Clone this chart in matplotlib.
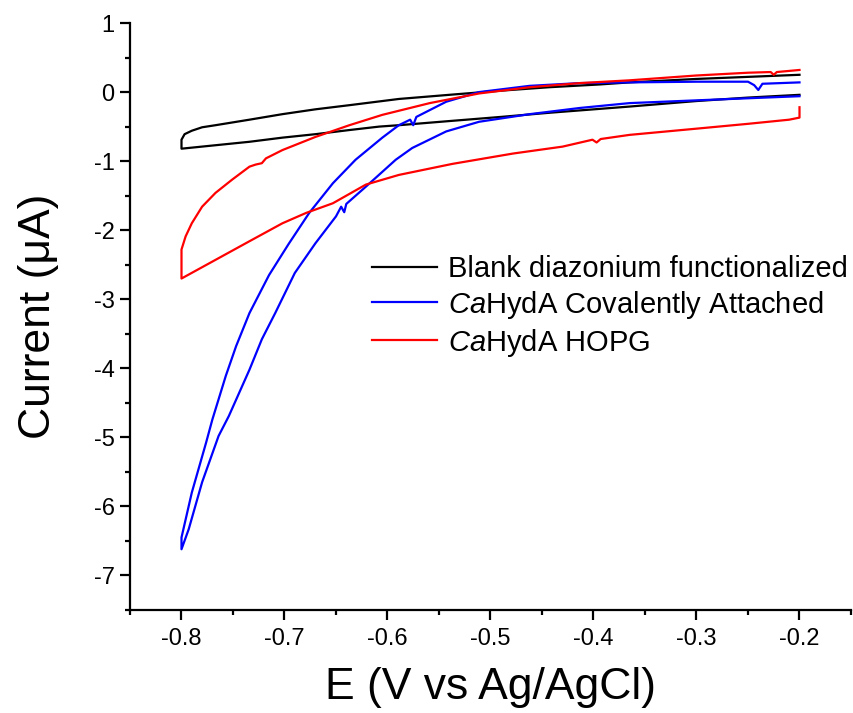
import matplotlib
matplotlib.use("Agg")
import matplotlib.pyplot as plt
from matplotlib.ticker import MultipleLocator

plt.rcParams['font.family'] = ['Liberation Sans', 'DejaVu Sans']
plt.rcParams['mathtext.fontset'] = 'custom'
plt.rcParams['mathtext.rm'] = 'Liberation Sans'
plt.rcParams['mathtext.it'] = 'Liberation Sans:italic'
plt.rcParams['axes.unicode_minus'] = False

# Blank diazonium functionalized electrode (cathodic sweep, then anodic sweep)
blank_E = [-0.2, -0.25, -0.3, -0.365, -0.443, -0.49, -0.54, -0.589, -0.608, -0.637, -0.67, -0.702, -0.734,
           -0.767, -0.8,
           -0.8, -0.797, -0.79, -0.78, -0.767, -0.734, -0.702, -0.67, -0.637, -0.589, -0.54, -0.49,
           -0.443, -0.394, -0.365, -0.3, -0.25, -0.2]
blank_I = [-0.04, -0.08, -0.13, -0.21, -0.30, -0.36, -0.42, -0.48, -0.50, -0.55, -0.61, -0.66, -0.72,
           -0.77, -0.82,
           -0.69, -0.61, -0.56, -0.51, -0.48, -0.40, -0.32, -0.25, -0.19, -0.10, -0.04, 0.02,
           0.07, 0.11, 0.14, 0.19, 0.22, 0.25]

# CaHydA covalently attached
cov_E = [-0.2, -0.25, -0.3, -0.365, -0.413, -0.462, -0.511, -0.543, -0.576, -0.592, -0.621, -0.640,
         -0.642, -0.645, -0.65, -0.67, -0.69, -0.709, -0.722, -0.734, -0.754, -0.764, -0.78, -0.793, -0.8,
         -0.8, -0.79, -0.776, -0.77, -0.757, -0.747, -0.734, -0.715, -0.696, -0.676, -0.653, -0.631,
         -0.605, -0.589, -0.578, -0.575, -0.572, -0.543, -0.511, -0.462, -0.413, -0.365, -0.3, -0.25,
         -0.244, -0.24, -0.236, -0.2]
cov_I = [-0.06, -0.09, -0.12, -0.16, -0.23, -0.32, -0.43, -0.57, -0.81, -0.98, -1.37, -1.62,
         -1.74, -1.66, -1.80, -2.19, -2.62, -3.20, -3.58, -4.02, -4.69, -4.98, -5.65, -6.33, -6.62,
         -6.45, -5.80, -5.07, -4.74, -4.11, -3.68, -3.20, -2.65, -2.20, -1.75, -1.32, -0.98,
         -0.66, -0.48, -0.40, -0.48, -0.36, -0.14, 0.00, 0.09, 0.13, 0.14, 0.15, 0.15,
         0.10, 0.03, 0.12, 0.14]

# CaHydA on HOPG
hopg_E = [-0.2, -0.2, -0.21, -0.25, -0.3, -0.365, -0.393, -0.397, -0.401, -0.43, -0.478, -0.537,
          -0.589, -0.621, -0.653, -0.679, -0.702, -0.734, -0.767, -0.8,
          -0.8, -0.796, -0.79, -0.78, -0.767, -0.751, -0.734, -0.728, -0.722, -0.718, -0.702, -0.67,
          -0.637, -0.605, -0.559, -0.511, -0.462, -0.413, -0.365, -0.3, -0.25, -0.228, -0.225, -0.222,
          -0.2]
hopg_I = [-0.22, -0.37, -0.40, -0.46, -0.53, -0.62, -0.68, -0.73, -0.69, -0.79, -0.89, -1.04,
          -1.20, -1.34, -1.61, -1.75, -1.90, -2.16, -2.43, -2.70,
          -2.28, -2.09, -1.90, -1.66, -1.46, -1.27, -1.08, -1.05, -1.03, -0.96, -0.84, -0.65,
          -0.48, -0.33, -0.16, -0.02, 0.07, 0.13, 0.17, 0.24, 0.28, 0.29, 0.25, 0.29,
          0.32]

series = [
    (blank_E, blank_I, '#000000', 'Blank diazonium functionalized'),
    (cov_E, cov_I, '#0000ff', r'$\mathit{Ca}$HydA Covalently Attached'),
    (hopg_E, hopg_I, '#ff0000', r'$\mathit{Ca}$HydA HOPG'),
]

fig = plt.figure(figsize=(8.54, 7.13), dpi=100)
ax = fig.add_axes([130 / 854, 1 - 610 / 713, 721 / 854, 587 / 713])

for E, I, color, label in series:
    ax.plot(E, I, color=color, lw=1.6, label=label)

ax.set_xlim(-0.85, -0.15)
ax.set_ylim(-7.5, 1.0)
ax.xaxis.set_minor_locator(MultipleLocator(0.05))
ax.yaxis.set_minor_locator(MultipleLocator(0.5))
ax.set_xticks([-0.8, -0.7, -0.6, -0.5, -0.4, -0.3, -0.2])
ax.set_xticklabels(['-0.8', '-0.7', '-0.6', '-0.5', '-0.4', '-0.3', '-0.2'])
ax.set_yticks(range(-7, 2))
ax.set_yticklabels([str(v) for v in range(-7, 2)])

for side in ('top', 'right'):
    ax.spines[side].set_visible(False)
for side in ('left', 'bottom'):
    ax.spines[side].set_linewidth(1.6)
ax.tick_params(which='major', direction='out', length=7, width=1.6, labelsize=17, pad=4)
ax.tick_params(which='minor', direction='out', length=3.6, width=1.6)
ax.tick_params(axis='x', which='major', pad=6)

ax.set_xlabel('E (V vs Ag/AgCl)', fontsize=32, labelpad=12)
ax.set_ylabel('Current (\u03bcA)', fontsize=32, labelpad=25)

ax.legend(loc='upper left', bbox_to_anchor=(0.336, 0.605), frameon=False, fontsize=21,
          handlelength=2.23, handletextpad=0.38, labelspacing=0.2, borderpad=0, borderaxespad=0)

fig.savefig('out.png', dpi=100, facecolor='white')
